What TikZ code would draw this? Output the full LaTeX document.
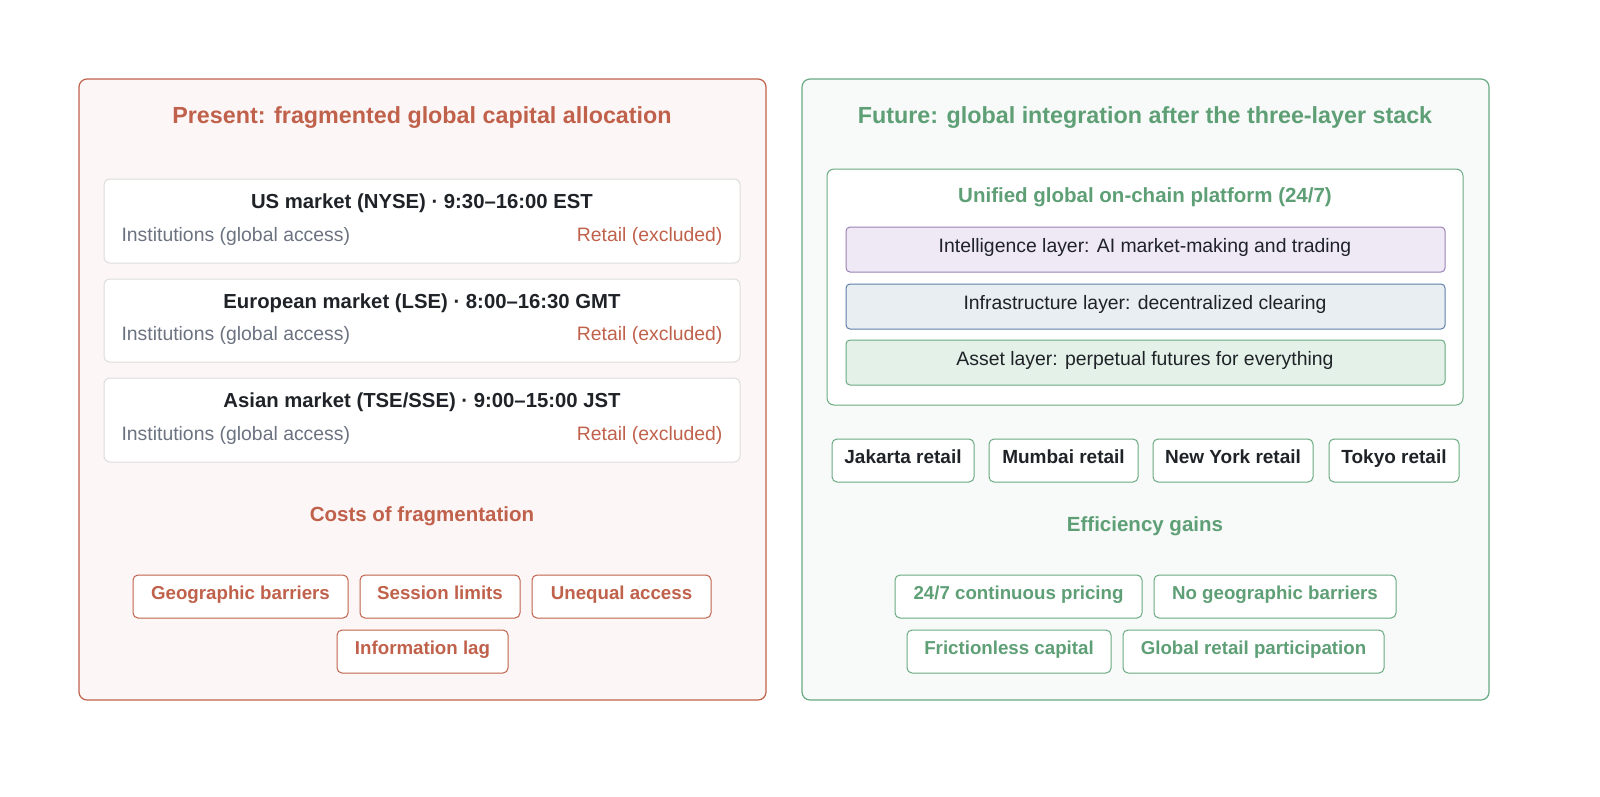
\documentclass[tikz,border=0pt]{standalone}
\usepackage{fontspec}
\setmainfont{Liberation Sans}
\definecolor{red1}{HTML}{C0614B}
\definecolor{redbg}{HTML}{FCF6F6}
\definecolor{grn}{HTML}{6AAA82}
\definecolor{grnt}{HTML}{5E9F76}
\definecolor{grnbg}{HTML}{F7FAF8}
\definecolor{gtxt}{HTML}{6B7280}
\definecolor{bord}{HTML}{DDDDDD}
\definecolor{txt}{HTML}{1F2328}
\definecolor{fa}{HTML}{EFE8F5}\definecolor{da}{HTML}{9A82B5}
\definecolor{fb}{HTML}{E9EEF3}\definecolor{db}{HTML}{5E7FA8}
\definecolor{fc}{HTML}{E4F1E8}\definecolor{dc}{HTML}{6AAA82}
\begin{document}
\begin{tikzpicture}[x=1pt,y=-1pt,
  every node/.style={text height=0.72em,text depth=0.22em},
  panel/.style={draw=#1,line width=1.2pt,rounded corners=8pt},
  box/.style={draw=bord,fill=white,line width=1pt,rounded corners=6pt},
  tag/.style={draw=#1,fill=white,line width=1pt,rounded corners=5pt},
  ttl/.style={font=\fontsize{23.3}{26}\selectfont\bfseries},
  bt/.style={font=\fontsize{20.3}{24}\selectfont\bfseries,text=txt},
  rt/.style={font=\fontsize{19}{22}\selectfont\bfseries,text=txt},
  nt/.style={font=\fontsize{19.4}{22}\selectfont},
  st/.style={font=\fontsize{18.7}{22}\selectfont\bfseries},
  ht/.style={font=\fontsize{20.5}{24}\selectfont\bfseries}]
\path[use as bounding box] (0,0) rectangle (1600,796);
% left
\draw[panel=red1,fill=redbg] (79,79) rectangle (766,700);
\node[ttl,text=red1] (lt) at (422,121) {Present: fragmented global capital allocation};
\foreach \a/\b/\t/\n in {179/263/{US market (NYSE) · 9:30–16:00 EST}/m1,279/362/{European market (LSE) · 8:00–16:30 GMT}/m2,378/462/{Asian market (TSE/SSE) · 9:00–15:00 JST}/m3}{
  \draw[box] (104,\a) rectangle (740,\b);
  \node[bt] (\n) at (422,\a+27) {\t};
  \node[nt,text=gtxt,anchor=west] (\n i) at (118,\b-24) {Institutions (global access)};
  \node[nt,text=red1,anchor=east] (\n r) at (726,\b-24) {Retail (excluded)};
}
\node[ht,text=red1] (cf) at (422,519) {Costs of fragmentation};
\foreach \x/\X/\y/\t/\n in {133/348/575/Geographic barriers/c1,360/520/575/Session limits/c2,532/711/575/Unequal access/c3,337/508/630/Information lag/c4}{
  \draw[tag=red1] (\x,\y) rectangle (\X,\y+43);
  \node[st,text=red1] (\n) at ({(\x+\X)/2},\y+21.5) {\t};
}
% right
\draw[panel=grn,fill=grnbg] (802,79) rectangle (1489,700);
\node[ttl,text=grnt] (rt) at (1145,121) {Future: global integration after the three-layer stack};
\draw[draw=grn,fill=white,line width=1pt,rounded corners=7pt] (827,169) rectangle (1463,405);
\node[ht,text=grnt] (up) at (1145,200) {Unified global on-chain platform (24/7)};
\foreach \a/\f/\d/\t/\n in {227/fa/da/{Intelligence layer: AI market-making and trading}/l1,284/fb/db/{Infrastructure layer: decentralized clearing}/l2,340/fc/dc/{Asset layer: perpetual futures for everything}/l3}{
  \draw[draw=\d,fill=\f,line width=1pt,rounded corners=4pt] (846,\a) rectangle (1445,\a+45);
  \node[nt,text=txt] (\n) at (1145,\a+22.5) {\t};
}
\foreach \x/\X/\t/\n in {832/974/Jakarta retail/r1,989/1138/Mumbai retail/r2,1153/1313/New York retail/r3,1329/1459/Tokyo retail/r4}{
  \draw[tag=grn] (\x,439) rectangle (\X,482);
  \node[rt] (\n) at ({(\x+\X)/2},460.5) {\t};
}
\node[ht,text=grnt] (eg) at (1145,529) {Efficiency gains};
\foreach \x/\X/\y/\t/\n in {895/1142/575/24\slash 7 continuous pricing/e1,1154/1396/575/No geographic barriers/e2,907/1111/630/Frictionless capital/e3,1123/1384/630/Global retail participation/e4}{
  \draw[tag=grn] (\x,\y) rectangle (\X,\y+43);
  \node[st,text=grnt] (\n) at ({(\x+\X)/2},\y+21.5) {\t};
}
\end{tikzpicture}
\end{document}
